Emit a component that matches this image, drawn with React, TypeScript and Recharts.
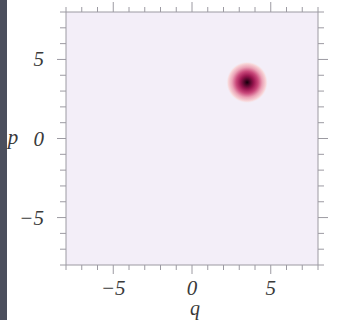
import { ScatterChart, Scatter, XAxis, YAxis } from 'recharts'

// phase-space grid (q, p)
const qTicks = [-8, -7, -6, -5, -4, -3, -2, -1, 0, 1, 2, 3, 4, 5, 6, 7, 8]
const pTicks = [-8, -7, -6, -5, -4, -3, -2, -1, 0, 1, 2, 3, 4, 5, 6, 7, 8]
const majorTicks = [-5, 0, 5]
const stateQ = [3.5]
const stateP = [3.55]

const points = stateQ.map((q, i) => ({ q, p: stateP[i] }))

const AXIS = '#9c9aa2'
const TEXT = '#3a3a3a'
const BG = '#f3eef8'
const FONT = '"Liberation Serif", "DejaVu Serif", serif'

const fmt = (v: number) => (v < 0 ? `\u2212${-v}` : `${v}`)
const isMajor = (v: number) => majorTicks.includes(v)

function tickText(x: number, y: number, v: string, anchor: 'middle' | 'end') {
  return (
    <text x={x} y={y} textAnchor={anchor} fill={TEXT} fontSize={21} fontStyle="italic" fontFamily={FONT}>
      {v}
    </text>
  )
}

function BottomTick({ x, y, payload }: any) {
  const m = isMajor(payload.value)
  return (
    <g>
      <line x1={x} x2={x} y1={y} y2={y + (m ? 9 : 5)} stroke={AXIS} />
      {m && tickText(x, y + 30, fmt(payload.value), 'middle')}
    </g>
  )
}

function TopTick({ x, y, payload }: any) {
  const m = isMajor(payload.value)
  return <line x1={x} x2={x} y1={y} y2={y - (m ? 10 : 5)} stroke={AXIS} />
}

function LeftTick({ x, y, payload }: any) {
  const m = isMajor(payload.value)
  return (
    <g>
      <line x1={x} x2={x - (m ? 9 : 6)} y1={y} y2={y} stroke={AXIS} />
      {m && tickText(x - 22, y + 7, fmt(payload.value), 'end')}
    </g>
  )
}

function RightTick({ x, y, payload }: any) {
  const m = isMajor(payload.value)
  return <line x1={x} x2={x + (m ? 10 : 6)} y1={y} y2={y} stroke={AXIS} />
}

function Blob({ cx, cy }: any) {
  return (
    <g>
      <defs>
        <radialGradient id="wigner">
          <stop offset="0%" stopColor="#12000a" />
          <stop offset="12%" stopColor="#4a0526" />
          <stop offset="32%" stopColor="#9a1650" />
          <stop offset="52%" stopColor="#c9487a" />
          <stop offset="72%" stopColor="#eba2b6" />
          <stop offset="90%" stopColor="#f8d8da" />
          <stop offset="100%" stopColor={BG} stopOpacity={0} />
        </radialGradient>
      </defs>
      <circle cx={cx} cy={cy} r={21} fill="url(#wigner)" />
    </g>
  )
}

const Nothing = () => <g />

export default function App() {
  return (
    <div style={{ position: 'absolute', left: 0, top: 0, width: 338, height: 320, background: '#fff' }}>
      <div style={{ position: 'absolute', left: 0, top: 0, width: 7, height: 320, background: '#4b4f5d' }} />
      <ScatterChart width={338} height={320} margin={{ top: 0, right: 0, left: 0, bottom: 0 }}>
        <rect x={66} y={12} width={252} height={253} fill={BG} />
        <XAxis
          xAxisId="b"
          dataKey="q"
          type="number"
          domain={[-8, 8]}
          ticks={qTicks}
          interval={0}
          height={55}
          tickSize={0}
          tickMargin={0}
          tickLine={false}
          axisLine={{ stroke: AXIS }}
          tick={BottomTick}
          label={({ viewBox }: any) => (
            <text x={viewBox.x + viewBox.width / 2 + 3} y={315} textAnchor="middle" fill={TEXT} fontSize={20} fontStyle="italic" fontFamily={FONT}>
              q
            </text>
          )}
        />
        <XAxis
          xAxisId="t"
          orientation="top"
          dataKey="q"
          type="number"
          domain={[-8, 8]}
          ticks={qTicks}
          interval={0}
          height={12}
          tickSize={0}
          tickMargin={0}
          tickLine={false}
          axisLine={{ stroke: AXIS }}
          tick={TopTick}
        />
        <YAxis
          yAxisId="l"
          dataKey="p"
          type="number"
          domain={[-8, 8]}
          ticks={pTicks}
          interval={0}
          width={66}
          tickSize={0}
          tickMargin={0}
          tickLine={false}
          axisLine={{ stroke: AXIS }}
          tick={LeftTick}
          label={() => (
            <text x={13} y={144} textAnchor="middle" fill={TEXT} fontSize={21} fontStyle="italic" fontFamily={FONT}>
              p
            </text>
          )}
        />
        <YAxis
          yAxisId="r"
          orientation="right"
          dataKey="p"
          type="number"
          domain={[-8, 8]}
          ticks={pTicks}
          interval={0}
          width={20}
          tickSize={0}
          tickMargin={0}
          tickLine={false}
          axisLine={{ stroke: AXIS }}
          tick={RightTick}
        />
        <Scatter xAxisId="b" yAxisId="l" data={points} shape={Blob} isAnimationActive={false} />
        <Scatter xAxisId="t" yAxisId="r" data={points} shape={Nothing} isAnimationActive={false} />
      </ScatterChart>
    </div>
  )
}
